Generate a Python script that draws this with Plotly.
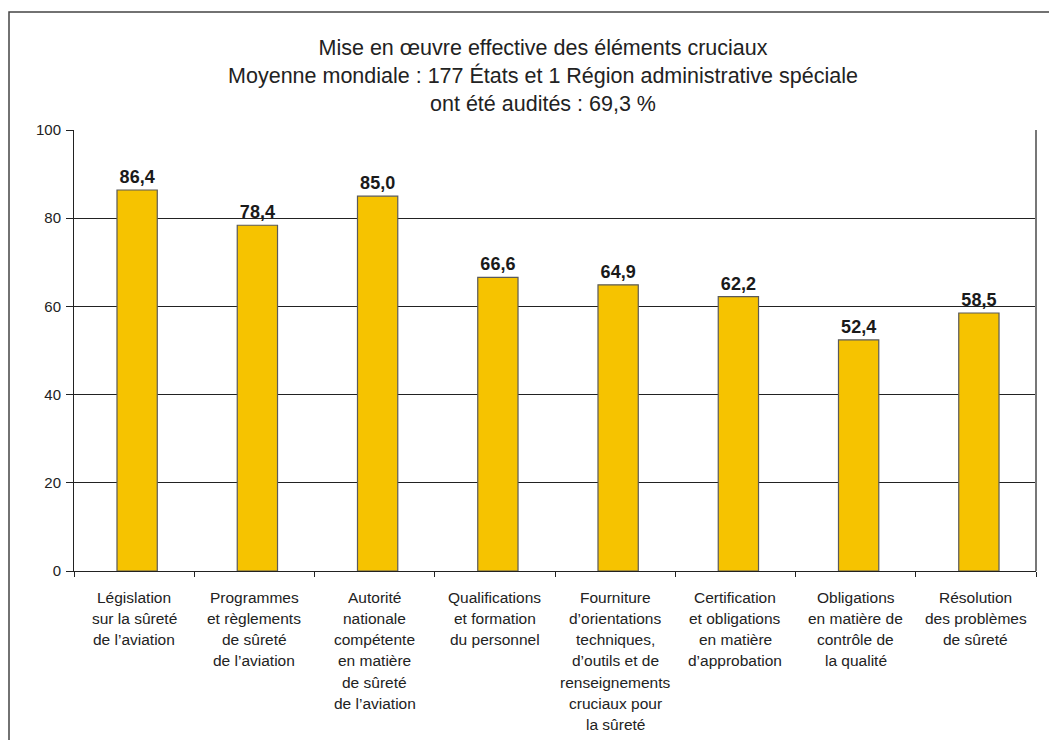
import plotly.graph_objects as go

categories = [
    "Législation<br>sur la sûreté<br>de l’aviation",
    "Programmes<br>et règlements<br>de sûreté<br>de l’aviation",
    "Autorité<br>nationale<br>compétente<br>en matière<br>de sûreté<br>de l’aviation",
    "Qualifications<br>et formation<br>du personnel",
    "Fourniture<br>d’orientations<br>techniques,<br>d’outils et de<br>renseignements<br>cruciaux pour<br>la sûreté",
    "Certification<br>et obligations<br>en matière<br>d’approbation",
    "Obligations<br>en matière de<br>contrôle de<br>la qualité",
    "Résolution<br>des problèmes<br>de sûreté",
]
values = [86.4, 78.4, 85.0, 66.6, 64.9, 62.2, 52.4, 58.5]
value_labels = ["86,4", "78,4", "85,0", "66,6", "64,9", "62,2", "52,4", "58,5"]
y_ticks = [0, 20, 40, 60, 80, 100]

title_lines = [
    "Mise en œuvre effective des éléments cruciaux",
    "Moyenne mondiale : 177 États et 1 Région administrative spéciale",
    "ont été audités : 69,3 %",
]

W, H = 1049, 740
ML, MR, MT, MB = 74, 13, 130, 169
FONT = "Liberation Sans, Arial, sans-serif"
keys = [f"c{i}" for i in range(len(categories))]

fig = go.Figure()
fig.add_trace(go.Bar(
    x=keys, y=values,
    width=0.335, offset=-0.1425,
    marker=dict(color="#F6C300", line=dict(color="#5a5a5a", width=1.2)),
    text=value_labels, textposition="outside", cliponaxis=False,
    textfont=dict(family=FONT, size=18, color="#1a1a1a", weight="bold"),
    hoverinfo="skip",
))

# category labels, one annotation per line
annotations = []
for k, cat in zip(keys, categories):
    for i, line in enumerate(cat.split("<br>")):
        annotations.append(dict(
            x=k, xref="x", y=0, yref="y", yanchor="middle",
            yshift=-(26 + i * 21.3), text=line, showarrow=False,
            font=dict(family=FONT, size=15.5, color="#222222"),
        ))

pw = W - ML - MR
ph = H - MT - MB
shapes = [
    # outer frame
    dict(type="rect", xref="paper", yref="paper",
         x0=(9 - ML) / pw, x1=(W + 20 - ML) / pw,
         y0=-(MB + 20) / ph, y1=1 + (MT - 12) / ph,
         line=dict(color="#444444", width=1.5), layer="below"),
    # right edge of plot area
    dict(type="line", xref="paper", yref="paper", x0=1, x1=1, y0=0, y1=1,
         line=dict(color="#777777", width=2)),
]

fig.update_layout(
    width=W, height=H,
    margin=dict(l=ML, r=MR, t=MT, b=MB, autoexpand=False),
    paper_bgcolor="white", plot_bgcolor="white",
    showlegend=False,
    title=dict(text="<br>".join(title_lines), x=543 / W, xref="container",
               xanchor="center", y=1 - 55 / H, yref="container", yanchor="top",
               font=dict(family=FONT, size=21.5, color="#222222")),
    annotations=annotations,
    shapes=shapes,
    bargap=0.66,
)
fig.update_xaxes(
    showticklabels=False, ticks="outside", tickson="boundaries", ticklen=5,
    tickcolor="#222222", showline=True, linecolor="#222222", linewidth=1,
    showgrid=False, range=[-0.5, 7.5], fixedrange=True,
)
fig.update_yaxes(
    range=[0, 100], tickvals=y_ticks, ticks="outside", ticklen=7,
    tickcolor="#222222", showline=True, linecolor="#222222", linewidth=1,
    showgrid=True, gridcolor="#222222", gridwidth=1, zeroline=False,
    tickfont=dict(family=FONT, size=15, color="#222222"), ticklabelstandoff=2,
)

fig.write_html("out.html")
